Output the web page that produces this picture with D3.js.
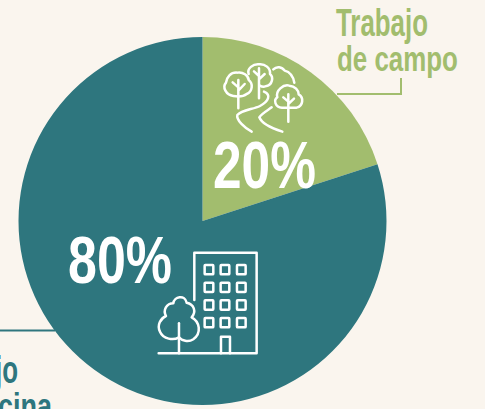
<!DOCTYPE html>
<html><head><meta charset="utf-8">
<script src="https://cdn.jsdelivr.net/npm/d3@7"></script>
<style>html,body{margin:0;padding:0;background:#faf5ee;overflow:hidden}svg{display:block}text{font-family:"Liberation Sans",Arial,sans-serif;font-weight:700}</style>
</head><body><div id="c"></div>
<script>
const categories = ["Trabajo de campo", "Trabajo de oficina"];
const values = [20, 80];
const valueLabels = ["20%", "80%"];
const colours = ["#a2bd6e", "#2e767e"];
const W = 485, H = 409, cream = "#faf5ee";
const svg = d3.select("#c").append("svg").attr("width", W).attr("height", H);
svg.append("rect").attr("width", W).attr("height", H).attr("fill", cream);

const arc = d3.arc().innerRadius(0).outerRadius(184);
const pie = d3.pie().sort(null).value(d => d);
const g = svg.append("g").attr("transform", "translate(202.5,221)");
g.selectAll("path").data(pie(values)).join("path").attr("d", arc).attr("fill", (d, i) => colours[i]);

function label(txt, x, y, size, len, fill, anchor) {
  const t = svg.append("text").attr("font-size", size)
    .attr("fill", fill).attr("text-anchor", anchor || "start").text(txt);
  const natural = t.node().getComputedTextLength();
  t.attr("transform", `translate(${x},${y}) scale(${len / natural},1)`);
}
label("Trabajo", 336, 36, 38, 92, colours[0]);
label("de campo", 337, 71, 35, 121, colours[0]);
label("Trabajo", 18, 383, 38, 92, colours[1], "end");
label("de oficina", 52, 418, 35, 126, colours[1], "end");
label(valueLabels[0], 213, 188, 67, 103, "#fff");
label(valueLabels[1], 68, 283, 67, 104, "#fff");

// leader lines
svg.append("path").attr("d", "M337,94H401V78").attr("fill", "none").attr("stroke", colours[0]).attr("stroke-width", 2);
svg.append("path").attr("d", "M0,330.5H55").attr("fill", "none").attr("stroke", colours[1]).attr("stroke-width", 2);

// forest icon (drawn in 3x crop units)
const forest = svg.append("g").attr("transform", "translate(200,0) scale(0.3333)")
  .attr("fill", "none").attr("stroke", "#fff").attr("stroke-width", 7.5).attr("stroke-linecap", "round").attr("stroke-linejoin", "round");
[
 "M115,325V240M115,262L98,247M115,272L134,252",
 "M100,288C78,285 66,262 78,248C80,232 92,216 112,218C128,214 146,228 146,240C160,250 158,275 140,282C130,290 112,290 100,288Z",
 "M146,222C140,205 160,192 176,193C195,190 212,205 210,222C222,232 216,255 200,258C192,262 185,260 178,256",
 "M177,295V205M177,228L162,214M177,238L194,222",
 "M220,208C230,198 246,200 254,212C270,216 280,232 283,248",
 "M265,365V283M265,305L250,292M265,312L282,296",
 "M246,323C225,322 220,300 232,292C226,272 250,252 268,257C285,258 296,272 296,283C312,292 310,318 290,323Z",
 "M192,275C215,285 205,305 180,318C160,328 125,330 112,345C108,360 135,385 155,395",
 "M215,322C205,330 185,340 178,352C185,370 215,385 247,395"
].forEach(d => forest.append("path").attr("d", d));

// building icon (drawn in 3x crop units)
const city = svg.append("g").attr("transform", "translate(0,220) scale(0.3333)")
  .attr("fill", "none").attr("stroke", "#fff").attr("stroke-width", 7.5).attr("stroke-linecap", "round").attr("stroke-linejoin", "round");
city.append("path").attr("d", "M583,240V98H770V400H476");
city.append("path").attr("d", "M663,400V350H690V400");
[614, 662, 711].forEach(x => [135, 188, 241, 294].forEach(y => {
  city.append("rect").attr("x", x).attr("y", y).attr("width", 26).attr("height", 28).attr("rx", 2);
}));
city.append("path").attr("d", "M537,400V310");
city.append("path").attr("d", "M537,352C520,362 490,358 480,335C470,315 482,295 498,288C488,270 500,250 520,250C522,230 555,222 560,248C582,252 590,275 575,292C600,305 605,340 580,358C565,368 545,362 537,352Z");
</script></body></html>
